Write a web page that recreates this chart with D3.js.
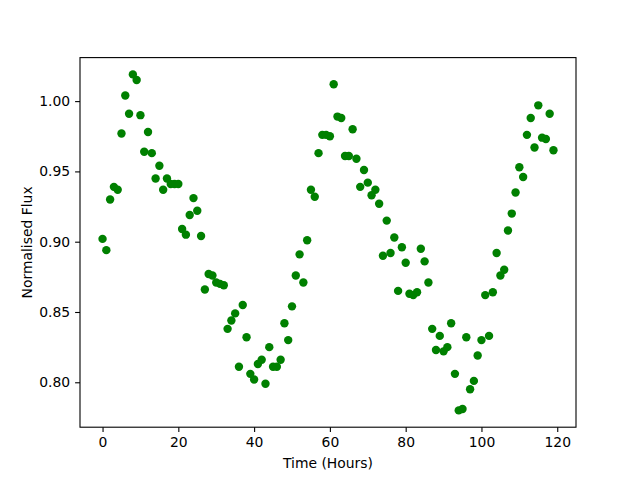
<!DOCTYPE html>
<html>
<head>
<meta charset="utf-8">
<script src="https://cdn.jsdelivr.net/npm/d3@7"></script>
<style>
  body { margin: 0; background: #fff; }
  text { font-family: "DejaVu Sans", sans-serif; }
</style>
</head>
<body>
<div id="chart"></div>
<script>
// one reading per hour
var hours = d3.range(0, 120);
var flux = [
  0.902, 0.894, 0.930, 0.939, 0.937, 0.977, 1.004, 0.991, 1.019, 1.015,
  0.990, 0.964, 0.978, 0.963, 0.945, 0.954, 0.937, 0.945, 0.941, 0.941,
  0.941, 0.909, 0.905, 0.919, 0.931, 0.922, 0.904, 0.866, 0.877, 0.876,
  0.871, 0.870, 0.869, 0.838, 0.844, 0.849, 0.811, 0.855, 0.832, 0.806,
  0.802, 0.813, 0.816, 0.799, 0.825, 0.811, 0.811, 0.816, 0.842, 0.830,
  0.854, 0.876, 0.891, 0.871, 0.901, 0.937, 0.932, 0.963, 0.976, 0.976,
  0.975, 1.012, 0.989, 0.988, 0.961, 0.961, 0.980, 0.959, 0.939, 0.951,
  0.942, 0.933, 0.937, 0.927, 0.890, 0.915, 0.892, 0.903, 0.865, 0.896,
  0.885, 0.863, 0.862, 0.864, 0.895, 0.886, 0.871, 0.838, 0.823, 0.833,
  0.822, 0.825, 0.842, 0.806, 0.780, 0.781, 0.832, 0.795, 0.801, 0.819,
  0.830, 0.862, 0.833, 0.864, 0.892, 0.876, 0.880, 0.908, 0.920, 0.935,
  0.953, 0.946, 0.976, 0.988, 0.967, 0.997, 0.974, 0.973, 0.991, 0.965
];
var xTicks = [0, 20, 40, 60, 80, 100, 120];
var yTicks = [0.80, 0.85, 0.90, 0.95, 1.00];

var w = 640, h = 480;
var margin = {left: 80, right: 64, top: 57.6, bottom: 52.8};

var svg = d3.select("#chart").append("svg")
  .attr("width", w)
  .attr("height", h);

// matplotlib style 5% padding
function pad(ext) {
  var d = (ext[1] - ext[0]) * 0.05;
  return [ext[0] - d, ext[1] + d];
}

var x = d3.scaleLinear()
  .domain(pad(d3.extent(hours)))
  .range([margin.left, w - margin.right]);
var y = d3.scaleLinear()
  .domain(pad(d3.extent(flux)))
  .range([h - margin.bottom, margin.top]);

var tickFont = "13.9px";

var xAxis = svg.append("g")
  .attr("transform", "translate(0," + (h - margin.bottom) + ")")
  .call(d3.axisBottom(x).tickValues(xTicks).tickSize(4.9).tickPadding(4.9).tickFormat(d3.format("d")));
var yAxis = svg.append("g")
  .attr("transform", "translate(" + margin.left + ",0)")
  .call(d3.axisLeft(y).tickValues(yTicks).tickSize(4.9).tickPadding(4.9).tickFormat(d3.format(".2f")));

[xAxis, yAxis].forEach(function(a) {
  a.select(".domain").remove();
  a.selectAll(".tick line").attr("stroke", "#000").attr("stroke-width", 1.1);
  a.selectAll(".tick text").attr("fill", "#000").style("font-size", tickFont);
});

// points
svg.append("g")
  .selectAll("circle")
  .data(hours)
  .enter()
  .append("circle")
  .attr("cx", function(d) { return x(d); })
  .attr("cy", function(d, i) { return y(flux[i]); })
  .attr("r", 4.2)
  .attr("fill", "#008000");

// frame
svg.append("rect")
  .attr("x", margin.left)
  .attr("y", margin.top)
  .attr("width", w - margin.left - margin.right)
  .attr("height", h - margin.top - margin.bottom)
  .attr("fill", "none")
  .attr("stroke", "#000")
  .attr("stroke-width", 1.1);

svg.append("text")
  .attr("x", (margin.left + w - margin.right) / 2)
  .attr("y", 468)
  .attr("text-anchor", "middle")
  .style("font-size", tickFont)
  .text("Time (Hours)");

svg.append("text")
  .attr("transform", "translate(32," + ((margin.top + h - margin.bottom) / 2) + ") rotate(-90)")
  .attr("text-anchor", "middle")
  .style("font-size", tickFont)
  .text("Normalised Flux");
</script>
</body>
</html>
